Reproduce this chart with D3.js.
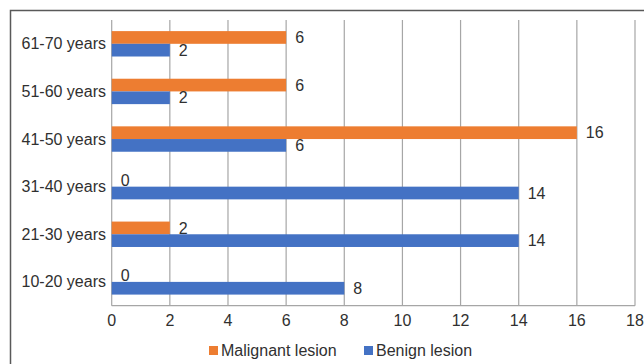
<!DOCTYPE html>
<html>
<head>
<meta charset="utf-8">
<script src="https://cdn.jsdelivr.net/npm/d3@7"></script>
<style>
  body { margin: 0; background: #fff; }
  text { font-family: "Liberation Sans", Arial, sans-serif; fill: #303030; }
</style>
</head>
<body>
<svg width="644" height="364"></svg>
<script>
var categories = ["61-70 years", "51-60 years", "41-50 years", "31-40 years", "21-30 years", "10-20 years"]
var malignant = [6, 6, 16, 0, 2, 0]
var benign = [2, 2, 6, 14, 14, 8]
var seriesNames = ["Malignant lesion", "Benign lesion"]
var xTicks = [0, 2, 4, 6, 8, 10, 12, 14, 16, 18]

var colors = ["#ED7D31", "#4472C4"]

var svg = d3.select("svg")

// outer frame (right and bottom edges fall outside the picture)
svg.append("rect")
  .attr("x", 10.5).attr("y", 10.5)
  .attr("width", 700).attr("height", 400)
  .style("fill", "none")
  .style("stroke", "#595959")
  .style("stroke-width", 1.5)

var plotLeft = 111.7, plotRight = 635, plotTop = 20, plotBottom = 305.7

var x = d3.scaleLinear().domain([0, 18]).range([plotLeft, plotRight])
var y = d3.scaleBand().domain(categories).range([plotTop, plotBottom])
var barH = 12.7
var fs = "16px"

// gridlines
svg.append("g")
  .selectAll("line")
  .data(xTicks)
  .join("line")
  .attr("x1", d => x(d)).attr("x2", d => x(d))
  .attr("y1", plotTop).attr("y2", plotBottom)
  .style("stroke", "#a6a6a6")
  .style("stroke-width", 1.2)

// bottom axis line
svg.append("line")
  .attr("x1", plotLeft).attr("x2", plotRight)
  .attr("y1", plotBottom).attr("y2", plotBottom)
  .style("stroke", "#a6a6a6")
  .style("stroke-width", 1.2)

// tick labels
svg.append("g")
  .selectAll("text")
  .data(xTicks)
  .join("text")
  .attr("x", d => x(d))
  .attr("y", 320)
  .attr("dy", "0.35em")
  .attr("text-anchor", "middle")
  .style("font-size", fs)
  .text(d => d)

// category labels
svg.append("g")
  .selectAll("text")
  .data(categories)
  .join("text")
  .attr("x", 106)
  .attr("y", d => y(d) + y.bandwidth() / 2)
  .attr("dy", "0.35em")
  .attr("text-anchor", "end")
  .style("font-size", fs)
  .text(d => d)

var series = [malignant, benign]

series.forEach(function(vals, s) {
  var g = svg.append("g")
  var offset = s == 0 ? -barH : 0

  g.selectAll("rect")
    .data(vals)
    .join("rect")
    .attr("x", x(0))
    .attr("y", (d, i) => y(categories[i]) + y.bandwidth() / 2 + offset)
    .attr("width", d => x(d) - x(0))
    .attr("height", barH)
    .style("fill", colors[s])

  g.selectAll("text")
    .data(vals)
    .join("text")
    .attr("x", d => x(d) + 9)
    .attr("y", (d, i) => y(categories[i]) + y.bandwidth() / 2 + offset + barH / 2)
    .attr("dy", "0.35em")
    .style("font-size", fs)
    .text(d => d)
})

// legend
var legendX = [209, 364]
var legend = svg.append("g")
seriesNames.forEach(function(name, i) {
  legend.append("rect")
    .attr("x", legendX[i]).attr("y", 346)
    .attr("width", 9).attr("height", 9)
    .style("fill", colors[i])
  legend.append("text")
    .attr("x", legendX[i] + 12)
    .attr("y", 350.5)
    .attr("dy", "0.35em")
    .style("font-size", fs)
    .text(name)
})
</script>
</body>
</html>
